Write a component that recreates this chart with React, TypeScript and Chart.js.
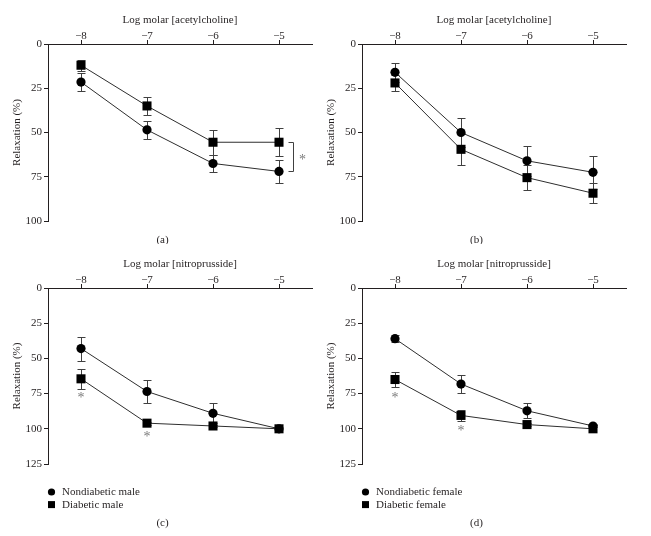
import React, { useEffect, useRef } from "react";
import { Chart, registerables } from "chart.js";

Chart.register(...registerables);

// ---------- data ----------
const logConcentrations = [-8, -7, -6, -5];
const xTickValues = [-8, -7, -6, -5];
const yTicksAch = [0, 25, 50, 75, 100];
const yTicksNp = [0, 25, 50, 75, 100, 125];

const seriesLabelsMale = ["Nondiabetic male", "Diabetic male"];
const seriesLabelsFemale = ["Nondiabetic female", "Diabetic female"];
const panelLabels = ["(a)", "(b)", "(c)", "(d)"];
const xTitles = ["Log molar [acetylcholine]", "Log molar [nitroprusside]"];
const yTitle = "Relaxation (%)";

// (a) acetylcholine, male
const aNondiabetic = [21.5, 48.5, 67.5, 72];
const aNondiabeticErr = [5, 5, 5, 6.5];
const aDiabetic = [12, 35, 55.5, 55.5];
const aDiabeticErr = [3, 5, 7, 8];

// (b) acetylcholine, female
const bNondiabetic = [16, 50, 66, 72.5];
const bNondiabeticErr = [5.3, 8, 8.5, 9.5];
const bDiabetic = [22, 59.5, 75.5, 84.3];
const bDiabeticErr = [4.4, 9, 7, 5.7];

// (c) nitroprusside, male
const cNondiabetic = [43, 73.5, 89, 100];
const cNondiabeticErr = [8.5, 8, 7, 0];
const cDiabetic = [64.5, 96, 98, 100];
const cDiabeticErr = [7, 1, 1, 0];

// (d) nitroprusside, female
const dNondiabetic = [36, 68.2, 87.2, 98];
const dNondiabeticErr = [2.7, 6.5, 5.3, 0.5];
const dDiabetic = [65, 90.5, 97, 100];
const dDiabeticErr = [5.5, 3.8, 1.2, 0];

// significance marks (x in log molar, y in %)
const cStars = [
  { x: -8, y: 76 },
  { x: -7, y: 103.5 },
];
const dStars = [
  { x: -8, y: 76 },
  { x: -7, y: 99.5 },
];
const aBracket = { x: -5, from: 55.5, to: 72 };

// ---------- styles ----------
const FONT = "'Liberation Serif', 'DejaVu Serif', serif";
const TEXT = "#231f20";
const AXIS = "#231f20";
const LINE = "#2e2e2e";
const ERR = "#404040";
const STAR = "#7a7a7a";

type Series = { label: string; values: number[]; errors: number[]; marker: "circle" | "rect" };

type PanelProps = {
  left: number;
  top: number;
  width: number;
  height: number;
  plotBottom: number;
  xTitle: string;
  yMax: number;
  yTicks: number[];
  series: Series[];
  panelLabel: string;
  panelLabelY: number;
  showLegend: boolean;
  legendY: number;
  stars: { x: number; y: number }[];
  bracket?: { x: number; from: number; to: number };
};

function Panel(p: PanelProps) {
  const ref = useRef<HTMLCanvasElement | null>(null);

  useEffect(() => {
    const canvas = ref.current;
    if (!canvas) return;

    const errorBars = {
      id: "errorBars",
      beforeDatasetsDraw(chart: any) {
        const { ctx } = chart;
        const xs = chart.scales.x;
        const ys = chart.scales.y;
        ctx.save();
        ctx.strokeStyle = ERR;
        ctx.lineWidth = 1;
        chart.data.datasets.forEach((ds: any) => {
          ds.data.forEach((pt: any, j: number) => {
            const e = ds.errors[j];
            if (!e) return;
            const px = Math.round(xs.getPixelForValue(pt.x)) + 0.5;
            const y1 = Math.round(ys.getPixelForValue(pt.y - e)) + 0.5;
            const y2 = Math.round(ys.getPixelForValue(pt.y + e)) + 0.5;
            ctx.beginPath();
            ctx.moveTo(px, y1);
            ctx.lineTo(px, y2);
            ctx.moveTo(px - 4, y1);
            ctx.lineTo(px + 4, y1);
            ctx.moveTo(px - 4, y2);
            ctx.lineTo(px + 4, y2);
            ctx.stroke();
          });
        });
        ctx.restore();
      },
    };

    const decor = {
      id: "decor",
      afterDraw(chart: any) {
        const { ctx, width } = chart;
        const xs = chart.scales.x;
        const ys = chart.scales.y;
        ctx.save();
        ctx.fillStyle = TEXT;
        ctx.font = `11px ${FONT}`;
        ctx.textAlign = "center";
        ctx.textBaseline = "middle";
        ctx.fillText(p.panelLabel, width / 2, p.panelLabelY);

        // significance stars
        ctx.fillStyle = STAR;
        ctx.font = `14px ${FONT}`;
        ctx.textBaseline = "alphabetic";
        p.stars.forEach((s) => {
          ctx.fillText("*", xs.getPixelForValue(s.x), ys.getPixelForValue(s.y) + 7);
        });

        if (p.bracket) {
          const bx = Math.round(xs.getPixelForValue(p.bracket.x)) + 14.5;
          const y1 = Math.round(ys.getPixelForValue(p.bracket.from)) + 0.5;
          const y2 = Math.round(ys.getPixelForValue(p.bracket.to)) + 0.5;
          ctx.strokeStyle = ERR;
          ctx.lineWidth = 1;
          ctx.beginPath();
          ctx.moveTo(bx - 5, y1);
          ctx.lineTo(bx, y1);
          ctx.lineTo(bx, y2);
          ctx.lineTo(bx - 5, y2);
          ctx.stroke();
          ctx.fillText("*", bx + 9, (y1 + y2) / 2 + 7);
        }

        if (p.showLegend) {
          ctx.font = `11px ${FONT}`;
          ctx.textAlign = "left";
          ctx.textBaseline = "middle";
          chart.data.datasets.forEach((ds: any, i: number) => {
            const ly = p.legendY + i * 12.6;
            ctx.fillStyle = "#000";
            if (ds.pointStyle === "circle") {
              ctx.beginPath();
              ctx.arc(51.5, ly, 3.6, 0, Math.PI * 2);
              ctx.fill();
            } else {
              ctx.fillRect(48, ly - 3.5, 7, 7);
            }
            ctx.fillStyle = TEXT;
            ctx.fillText(ds.label, 62, ly + 0.5);
          });
        }
        ctx.restore();
      },
    };

    const chart = new Chart(canvas, {
      type: "line",
      data: {
        datasets: p.series.map((s) => ({
          label: s.label,
          data: logConcentrations.map((x, j) => ({ x, y: s.values[j] })),
          errors: s.errors,
          borderColor: LINE,
          borderWidth: 1,
          pointStyle: s.marker,
          pointRadius: s.marker === "circle" ? 4.6 : 6.4,
          pointHoverRadius: s.marker === "circle" ? 4.6 : 6.4,
          pointBackgroundColor: "#000",
          pointBorderColor: "#000",
          pointBorderWidth: 0,
          tension: 0,
          fill: false,
          clip: false,
          order: s.marker === "rect" ? 1 : 2,
        })) as any,
      },
      options: {
        responsive: false,
        animation: false,
        events: [],
        layout: { padding: { left: 0, top: 0, right: 13, bottom: p.height - p.plotBottom } },
        plugins: {
          legend: { display: false },
          tooltip: { enabled: false },
          title: { display: false },
        },
        scales: {
          x: {
            type: "linear",
            position: "top",
            min: -8.5,
            max: -4.5,
            afterBuildTicks: (s: any) => {
              s.ticks = xTickValues.map((v) => ({ value: v }));
            },
            afterFit: (s: any) => {
              s.height = 44;
            },
            grid: { display: true, drawOnChartArea: false, drawTicks: true, tickLength: 4, color: AXIS },
            border: { display: true, color: AXIS, width: 1 },
            ticks: {
              color: TEXT,
              font: { family: FONT, size: 11, lineHeight: 1 },
              padding: -2,
              maxRotation: 0,
              autoSkip: false,
              callback: (v: any) => "\u2212" + Math.abs(Number(v)),
            },
            title: {
              display: true,
              text: p.xTitle,
              color: TEXT,
              font: { family: FONT, size: 11 },
              padding: { top: 14, bottom: 0 },
            },
          },
          y: {
            type: "linear",
            position: "left",
            reverse: true,
            min: 0,
            max: p.yMax,
            afterBuildTicks: (s: any) => {
              s.ticks = p.yTicks.map((v) => ({ value: v }));
            },
            afterFit: (s: any) => {
              s.width = 48;
            },
            grid: { display: true, drawOnChartArea: false, drawTicks: true, tickLength: 4, color: AXIS },
            border: { display: true, color: AXIS, width: 1 },
            ticks: {
              color: TEXT,
              font: { family: FONT, size: 11 },
              padding: 2,
              autoSkip: false,
            },
            title: {
              display: true,
              text: yTitle,
              color: TEXT,
              font: { family: FONT, size: 11 },
              padding: { top: 11, bottom: 0 },
            },
          },
        },
      } as any,
      plugins: [errorBars, decor],
    });

    return () => chart.destroy();
  }, []);

  return (
    <canvas
      ref={ref}
      width={p.width}
      height={p.height}
      style={{ position: "absolute", left: p.left, top: p.top, width: p.width, height: p.height }}
    />
  );
}

export default function App() {
  const W = 325;
  return (
    <div style={{ position: "absolute", left: 0, top: 0, width: 651, height: 536, background: "#fff", overflow: "hidden" }}>
      <Panel
        left={0}
        top={0}
        width={W}
        height={244}
        plotBottom={221}
        xTitle={xTitles[0]}
        yMax={100}
        yTicks={yTicksAch}
        series={[
          { label: seriesLabelsMale[0], values: aNondiabetic, errors: aNondiabeticErr, marker: "circle" },
          { label: seriesLabelsMale[1], values: aDiabetic, errors: aDiabeticErr, marker: "rect" },
        ]}
        panelLabel={panelLabels[0]}
        panelLabelY={240}
        showLegend={false}
        legendY={0}
        stars={[]}
        bracket={aBracket}
      />
      <Panel
        left={314}
        top={0}
        width={W}
        height={244}
        plotBottom={221}
        xTitle={xTitles[0]}
        yMax={100}
        yTicks={yTicksAch}
        series={[
          { label: seriesLabelsFemale[0], values: bNondiabetic, errors: bNondiabeticErr, marker: "circle" },
          { label: seriesLabelsFemale[1], values: bDiabetic, errors: bDiabeticErr, marker: "rect" },
        ]}
        panelLabel={panelLabels[1]}
        panelLabelY={240}
        showLegend={false}
        legendY={0}
        stars={[]}
      />
      <Panel
        left={0}
        top={244}
        width={W}
        height={292}
        plotBottom={220}
        xTitle={xTitles[1]}
        yMax={125}
        yTicks={yTicksNp}
        series={[
          { label: seriesLabelsMale[0], values: cNondiabetic, errors: cNondiabeticErr, marker: "circle" },
          { label: seriesLabelsMale[1], values: cDiabetic, errors: cDiabeticErr, marker: "rect" },
        ]}
        panelLabel={panelLabels[2]}
        panelLabelY={279}
        showLegend={true}
        legendY={248}
        stars={cStars}
      />
      <Panel
        left={314}
        top={244}
        width={W}
        height={292}
        plotBottom={220}
        xTitle={xTitles[1]}
        yMax={125}
        yTicks={yTicksNp}
        series={[
          { label: seriesLabelsFemale[0], values: dNondiabetic, errors: dNondiabeticErr, marker: "circle" },
          { label: seriesLabelsFemale[1], values: dDiabetic, errors: dDiabeticErr, marker: "rect" },
        ]}
        panelLabel={panelLabels[3]}
        panelLabelY={279}
        showLegend={true}
        legendY={248}
        stars={dStars}
      />
    </div>
  );
}
